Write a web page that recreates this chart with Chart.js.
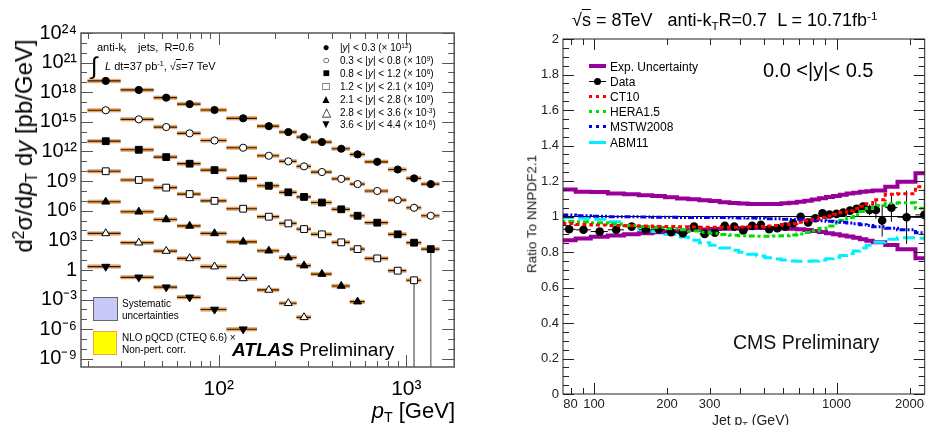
<!DOCTYPE html>
<html>
<head>
<meta charset="utf-8">
<script src="https://cdn.jsdelivr.net/npm/chart.js@4.4.0/dist/chart.umd.min.js"></script>
<style>
  body { margin: 0; background: #fff; width: 926px; height: 425px; overflow: hidden; position: relative;
         font-family: "Liberation Sans", Arial, sans-serif; }
  canvas { position: absolute; top: 0; }
  #atlas { left: 0; }
  #cms { left: 463px; }
  .t { position: absolute; white-space: nowrap; color: #000; line-height: 1; }
  sup { font-size: 65%; vertical-align: 0.5em; line-height: 0; }
  sub { font-size: 65%; vertical-align: -0.3em; line-height: 0; }
  .ov { text-decoration: overline; }
  .lg { position: absolute; left: 318px; font-size: 10px; line-height: 12px; white-space: nowrap; }
  .lg b { display: inline-block; width: 16px; text-align: center; font-weight: normal; font-size: 12px; margin-right: 6px; }
  .rl { position: absolute; left: 589px; font-size: 12px; line-height: 14px; white-space: nowrap; }
  .rl i { display: inline-block; width: 17px; height: 0; vertical-align: middle; margin-right: 4px; position: relative; top: -1px; }
</style>
</head>
<body>
<canvas id="atlas" width="460" height="425"></canvas>
<canvas id="cms" width="466" height="425"></canvas>

<!-- left panel texts -->
<div class="t" style="left:24px;top:146px;font-size:24px;transform:translate(-50%,-50%) rotate(-90deg);">d<sup>2</sup>σ/d<i>p</i><sub>T</sub> d<i>y</i> [pb/GeV]</div>
<div class="t" style="right:471px;top:400px;font-size:22px;"><i>p</i><sub>T</sub> [GeV]</div>
<div class="t" style="left:97px;top:42px;font-size:11px;">anti-k<sub>t</sub>&nbsp;&nbsp;&nbsp; jets,&nbsp; R=0.6</div>
<div class="t" style="left:91px;top:54px;font-size:24px;">∫</div>
<div class="t" style="left:105px;top:61px;font-size:11px;"><i>L</i> dt=37 pb<sup>-1</sup>, √<span class="ov"><i>s</i></span>=7 TeV</div>
<div id="atlasLegend"></div>
<div style="position:absolute;left:93px;top:297px;width:23px;height:22px;background:#c8c8f6;border:1px solid #666;"></div>
<div class="t" style="left:122px;top:298px;font-size:10px;line-height:12px;">Systematic<br>uncertainties</div>
<div style="position:absolute;left:93px;top:331px;width:22px;height:22px;background:#ffff00;border:1.5px solid #f4a340;"></div>
<div class="t" style="left:122px;top:332px;font-size:10px;line-height:12px;">NLO pQCD (CTEQ 6.6) ×<br>Non-pert. corr.</div>
<div class="t" style="left:232px;top:340px;font-size:19px;"><b><i>ATLAS</i></b> Preliminary</div>

<!-- right panel texts -->
<div class="t" style="left:572px;top:11px;font-size:18px;">√<span class="ov">s</span> = 8TeV&nbsp;&nbsp; anti-k<sub>T</sub>R=0.7&nbsp; L = 10.71fb<sup>-1</sup></div>
<div class="t" style="left:532px;top:214px;font-size:13.5px;color:#222;transform:translate(-50%,-50%) rotate(-90deg);">Ratio To NNPDF2.1</div>
<div class="t" style="left:712px;top:413px;font-size:14px;color:#222;">Jet p<sub>T</sub> (GeV)</div>
<div class="t" style="left:763px;top:60px;font-size:20px;">0.0 &lt;|y|&lt; 0.5</div>
<div class="t" style="left:733px;top:333px;font-size:19.5px;color:#111;">CMS Preliminary</div>
<div class="rl" style="top:60px;"><i style="border-top:4px solid #990099;top:-2px;"></i>Exp. Uncertainty</div>
<div class="rl" style="top:75px;"><i style="border-top:1px solid #000;"><span style="position:absolute;left:5px;top:-4.5px;width:7px;height:7px;border-radius:50%;background:#000;"></span></i>Data</div>
<div class="rl" style="top:90px;"><i style="border-top:3px dotted #ff0000;"></i>CT10</div>
<div class="rl" style="top:105px;"><i style="border-top:3px dotted #00dd00;"></i>HERA1.5</div>
<div class="rl" style="top:120px;"><i style="border-top:3px dotted #0000ee;"></i>MSTW2008</div>
<div class="rl" style="top:136px;"><i style="border-top:3px solid #00eeff;"></i>ABM11</div>

<script>
var font = '"Liberation Sans", Arial, sans-serif';

// ---------- ATLAS 7 TeV inclusive jets ----------
var ptEdges = [20, 30, 45, 60, 80, 110, 160, 210, 260, 310, 400, 500, 600, 800, 1000, 1200, 1500];
var ptMid = [25, 37.5, 52.5, 70, 95, 135, 185, 235, 285, 355, 450, 550, 700, 900, 1100, 1350];

var y00_03 = [1.4e19, 1.7e18, 2.8e17, 6.3e16, 1.6e16, 2.3e15, 3.7e14, 9.3e13, 2.9e13, 9.1e12, 1.9e12, 5.1e11, 9.1e10, 1.5e10, 1.9e9, 5.0e8];
var y03_08 = [1.5e16, 1.8e15, 3.0e14, 6.9e13, 1.3e13, 2.4e12, 3.7e11, 1.0e11, 3.1e10, 8.3e9, 1.7e9, 5.0e8, 1.0e8, 1.2e7, 2.0e6, 3.1e5];
var y08_12 = [1.1e13, 1.5e12, 2.7e11, 5.8e10, 1.3e10, 1.9e9, 3.4e8, 7.4e7, 2.5e7, 6.8e6, 1.4e6, 3.1e5, 6.2e4, 4.1e3, 5.8e2, 1.3e2];
var y12_21 = [1.0e10, 1.3e9, 2.2e8, 4.9e7, 1.0e7, 1.6e6, 2.5e5, 5.2e4, 1.4e4, 4.1e3, 6.3e2, 1.3e2, 15, 0.85, 0.091];
var y21_28 = [8.1e6, 7.9e5, 1.3e5, 2.9e4, 5.1e3, 7.2e2, 89, 18, 2.8, 0.39, 0.024, 6.2e-4];
var y28_36 = [5.1e3, 5.8e2, 83, 15, 2.2, 0.14, 9.5e-3, 4.3e-4, 1.6e-5];
var y36_44 = [2.2, 0.18, 0.018, 1.7e-3, 1.0e-4, 1.0e-6];

var rapBins = ['|y| < 0.3', '0.3 < |y| < 0.8', '0.8 < |y| < 1.2', '1.2 < |y| < 2.1', '2.1 < |y| < 2.8', '2.8 < |y| < 3.6', '3.6 < |y| < 4.4'];
var rapScaleExp = ['12', '9', '6', '3', '0', '-3', '-6'];
var rapGlyph = ['●', '○', '■', '□', '▲', '△', '▼'];

// points whose lower error reaches the bottom of the plot
var errSeries = [2, 3];
var errBin = [15, 14];
var errLow = [1e-10, 1e-10];

var atlasXTicks = [100, 1000];
var atlasXLabels = ['10²', '10³'];
var atlasYTicks = [1e-9, 1e-6, 1e-3, 1, 1e3, 1e6, 1e9, 1e12, 1e15, 1e18, 1e21, 1e24];
var atlasYLabels = ['10⁻⁹', '10⁻⁶', '10⁻³', '1', '10³', '10⁶', '10⁹', '10¹²', '10¹⁵', '10¹⁸', '10²¹', '10²⁴'];

// ---------- CMS 8 TeV ratio ----------
var cmsPt = [79, 90.5, 105.5, 123.5, 143, 163.5, 185, 208, 232.5, 258.5, 286, 315, 346, 378.5, 412.5, 449, 487.5, 527.5, 570, 615, 662, 711.5, 763.5, 818, 875.5, 936, 999.5, 1066.5, 1136.5, 1210, 1287.5, 1368.5, 1453.5, 1542.5, 1684, 1945, 2302];
var cmsLo = [74, 84, 97, 114, 133, 153, 174, 196, 220, 245, 272, 300, 330, 362, 395, 430, 468, 507, 548, 592, 638, 686, 737, 790, 846, 905, 967, 1032, 1101, 1172, 1248, 1327, 1410, 1497, 1588, 1784, 2116];
var cmsHi = [84, 97, 114, 133, 153, 174, 196, 220, 245, 272, 300, 330, 362, 395, 430, 468, 507, 548, 592, 638, 686, 737, 790, 846, 905, 967, 1032, 1101, 1172, 1248, 1327, 1410, 1497, 1588, 1784, 2116, 2500];
var cmsRatio = [0.928, 0.925, 0.915, 0.925, 0.943, 0.925, 0.928, 0.912, 0.906, 0.943, 0.902, 0.909, 0.947, 0.943, 0.921, 0.947, 0.953, 0.928, 0.934, 0.943, 0.962, 0.999, 0.966, 0.990, 1.018, 1.011, 1.015, 1.022, 1.033, 1.043, 1.056, 1.037, 1.037, 0.977, 1.050, 0.996, 1.009];
var cmsErr = [0.004, 0.004, 0.004, 0.004, 0.004, 0.004, 0.004, 0.004, 0.004, 0.004, 0.004, 0.004, 0.004, 0.004, 0.004, 0.004, 0.004, 0.004, 0.004, 0.004, 0.005, 0.005, 0.005, 0.006, 0.007, 0.008, 0.010, 0.012, 0.015, 0.018, 0.022, 0.030, 0.050, 0.090, 0.080, 0.150, 0.150];

var histEdges = [74, 84, 97, 114, 133, 153, 174, 196, 220, 245, 272, 300, 330, 362, 395, 430, 468, 507, 548, 592, 638, 686, 737, 790, 846, 905, 967, 1032, 1101, 1172, 1248, 1327, 1410, 1588, 1784, 2116, 2500];
var uncUp = [1.152, 1.140, 1.138, 1.130, 1.125, 1.120, 1.115, 1.108, 1.102, 1.097, 1.092, 1.087, 1.080, 1.076, 1.073, 1.071, 1.070, 1.070, 1.071, 1.074, 1.078, 1.083, 1.089, 1.096, 1.103, 1.110, 1.116, 1.122, 1.129, 1.134, 1.139, 1.142, 1.146, 1.168, 1.196, 1.244];
var uncDown = [0.866, 0.876, 0.886, 0.893, 0.900, 0.906, 0.911, 0.916, 0.920, 0.924, 0.927, 0.929, 0.931, 0.933, 0.934, 0.935, 0.935, 0.935, 0.934, 0.933, 0.931, 0.928, 0.924, 0.919, 0.912, 0.906, 0.900, 0.893, 0.887, 0.880, 0.872, 0.864, 0.855, 0.840, 0.815, 0.765];
var ct10 = [0.960, 0.955, 0.952, 0.950, 0.948, 0.946, 0.944, 0.943, 0.942, 0.941, 0.940, 0.940, 0.940, 0.940, 0.941, 0.942, 0.944, 0.947, 0.950, 0.955, 0.961, 0.968, 0.976, 0.985, 0.994, 1.003, 1.012, 1.022, 1.033, 1.045, 1.058, 1.072, 1.095, 1.125, 1.128, 1.168];
var hera15 = [0.972, 0.970, 0.965, 0.958, 0.950, 0.944, 0.938, 0.932, 0.925, 0.918, 0.911, 0.905, 0.899, 0.895, 0.892, 0.890, 0.889, 0.889, 0.890, 0.892, 0.896, 0.902, 0.910, 0.920, 0.933, 0.947, 0.962, 0.978, 0.994, 1.010, 1.028, 1.045, 1.062, 1.075, 1.078, 1.047];
var mstw2008 = [1.008, 1.004, 1.001, 0.999, 0.998, 0.997, 0.996, 0.996, 0.995, 0.995, 0.995, 0.994, 0.994, 0.993, 0.992, 0.991, 0.990, 0.988, 0.987, 0.985, 0.983, 0.981, 0.980, 0.978, 0.976, 0.973, 0.970, 0.967, 0.963, 0.959, 0.954, 0.949, 0.942, 0.934, 0.925, 0.908];
var abm11 = [0.995, 0.990, 0.984, 0.970, 0.950, 0.930, 0.915, 0.900, 0.885, 0.866, 0.852, 0.838, 0.822, 0.810, 0.798, 0.787, 0.777, 0.768, 0.761, 0.755, 0.750, 0.748, 0.748, 0.750, 0.755, 0.762, 0.770, 0.780, 0.792, 0.806, 0.822, 0.838, 0.855, 0.872, 0.880, 0.878];

var cmsXTicks = [80, 100, 200, 300, 1000, 2000];
var cmsXLabels = ['80', '100', '200', '300', '1000', '2000'];
var cmsYTicks = [0, 0.2, 0.4, 0.6, 0.8, 1, 1.2, 1.4, 1.6, 1.8, 2];
var cmsYLabels = ['0', '0.2', '0.4', '0.6', '0.8', '1', '1.2', '1.4', '1.6', '1.8', '2'];

// ROOT style frame with inward ticks on all sides
var rootFrame = {
  id: 'rootFrame',
  afterDatasetsDraw: function (chart, args, o) {
    var a = chart.chartArea, ctx = chart.ctx, xs = chart.scales.x, ys = chart.scales.y;
    ctx.save();
    ctx.strokeStyle = o.color;
    ctx.lineWidth = 1;
    ctx.beginPath();
    function tx(v, len) {
      var p = Math.round(xs.getPixelForValue(v)) + 0.5;
      ctx.moveTo(p, a.bottom); ctx.lineTo(p, a.bottom - len);
      ctx.moveTo(p, a.top); ctx.lineTo(p, a.top + len);
    }
    function ty(v, len) {
      var p = Math.round(ys.getPixelForValue(v)) + 0.5;
      ctx.moveTo(a.left, p); ctx.lineTo(a.left + len, p);
      ctx.moveTo(a.right, p); ctx.lineTo(a.right - len, p);
    }
    o.xMajor.forEach(function (v) { tx(v, o.major); });
    o.xMinor.forEach(function (v) { tx(v, o.minor); });
    o.yMajor.forEach(function (v) { ty(v, o.major); });
    o.yMinor.forEach(function (v) { ty(v, o.minor); });
    ctx.stroke();
    ctx.lineWidth = o.frame;
    ctx.strokeRect(a.left, a.top, a.right - a.left, a.bottom - a.top);
    ctx.restore();
  }
};

// ---------- left chart ----------
var atlasSeries = [y00_03, y03_08, y08_12, y12_21, y21_28, y28_36, y36_44];
var markStyle = ['circle', 'circle', 'rect', 'rect', 'triangle', 'triangle', 'triangle'];
var markOpen = [false, true, false, true, false, true, false];
var markRot = [0, 0, 0, 0, 0, 0, 180];
var markSize = [3.6, 3.6, 4.8, 4.8, 4.6, 4.6, 4.6];

function segs(vals) {
  var d = [];
  vals.forEach(function (v, i) {
    d.push({ x: ptEdges[i], y: v }, { x: ptEdges[i + 1], y: v }, { x: ptEdges[i + 1], y: null });
  });
  return d;
}
function lineSet(data, color, width) {
  return { data: data, borderColor: color, borderWidth: width, pointRadius: 0, pointHitRadius: 0, fill: false, tension: 0, showLine: true };
}

// listed bottom layer first; Chart.js paints the first dataset last, so reverse at the end
var atlasSets = [];
atlasSeries.forEach(function (vals) { atlasSets.push(lineSet(segs(vals), '#c8c8f6', 4.5)); });
atlasSeries.forEach(function (vals) { atlasSets.push(lineSet(segs(vals), '#f4a340', 3.5)); });
atlasSeries.forEach(function (vals) { atlasSets.push(lineSet(segs(vals), '#2a1a08', 1.2)); });
errSeries.forEach(function (s, k) {
  var b = errBin[k];
  atlasSets.push(lineSet([{ x: ptMid[b], y: atlasSeries[s][b] }, { x: ptMid[b], y: errLow[k] }], '#888', 1));
});
atlasSeries.forEach(function (vals, s) {
  atlasSets.push({
    data: vals.map(function (v, i) { return { x: ptMid[i], y: v }; }),
    showLine: false,
    pointStyle: markStyle[s],
    pointRotation: markRot[s],
    pointRadius: markSize[s],
    pointBackgroundColor: markOpen[s] ? '#fff' : '#000',
    pointBorderColor: '#000',
    pointBorderWidth: 1
  });
});
atlasSets.reverse();

var atlasMinorX = [20, 30, 40, 50, 60, 70, 80, 90, 200, 300, 400, 500, 600, 700, 800, 900];
var atlasMinorY = [];
for (var e = -9; e <= 24; e++) { if (e % 3 !== 0) atlasMinorY.push(Math.pow(10, e)); }

new Chart(document.getElementById('atlas'), {
  type: 'line',
  data: { datasets: atlasSets },
  plugins: [rootFrame],
  options: {
    responsive: false, animation: false, devicePixelRatio: 1,
    layout: { padding: { top: 33, right: 5, left: 0, bottom: 0 } },
    plugins: {
      legend: { display: false }, tooltip: { enabled: false },
      rootFrame: { color: '#555', frame: 1.5, major: 12, minor: 6, xMajor: atlasXTicks, xMinor: atlasMinorX, yMajor: atlasYTicks, yMinor: atlasMinorY }
    },
    scales: {
      x: {
        type: 'logarithmic', min: 18.45, max: 1800,
        afterBuildTicks: function (s) { s.ticks = atlasXTicks.map(function (v) { return { value: v }; }); },
        afterFit: function (s) { s.height = 58; },
        grid: { display: false, drawTicks: false }, border: { display: false },
        ticks: { autoSkip: false, maxRotation: 0, padding: 10, color: '#000', font: { family: font, size: 21 },
                 callback: function (v, i) { return atlasXLabels[i]; } }
      },
      y: {
        type: 'logarithmic', min: 1.5e-10, max: 1e24,
        afterBuildTicks: function (s) { s.ticks = atlasYTicks.map(function (v) { return { value: v }; }); },
        afterFit: function (s) { s.width = 81; },
        grid: { display: false, drawTicks: false }, border: { display: false },
        ticks: { autoSkip: false, padding: 4, color: '#000', font: { family: font, size: 20 },
                 callback: function (v, i) { return atlasYLabels[i]; } }
      }
    }
  }
});

// left legend
var lgHtml = '';
rapBins.forEach(function (lab, i) {
  var txt = lab.replace(/y/g, '<i>y</i>') + ' (× 10<sup>' + rapScaleExp[i] + '</sup>)';
  lgHtml += '<div class="lg" style="top:' + (41 + i * 12.9) + 'px"><b>' + rapGlyph[i] + '</b>' + txt + '</div>';
});
document.getElementById('atlasLegend').innerHTML = lgHtml;

// ---------- right chart ----------
function hist(vals) {
  var d = vals.map(function (v, i) { return { x: histEdges[i], y: v }; });
  d.push({ x: histEdges[vals.length], y: vals[vals.length - 1] });
  return d;
}
function histSet(vals, color, width, dash) {
  return { data: hist(vals), borderColor: color, borderWidth: width, borderDash: dash, stepped: true,
           pointRadius: 0, pointHitRadius: 0, fill: false, showLine: true };
}
var ebars = [];
cmsPt.forEach(function (x, i) {
  ebars.push({ x: x, y: cmsRatio[i] - cmsErr[i] }, { x: x, y: cmsRatio[i] + cmsErr[i] }, { x: x, y: null });
  ebars.push({ x: cmsLo[i], y: cmsRatio[i] }, { x: cmsHi[i], y: cmsRatio[i] }, { x: cmsHi[i], y: null });
});

var cmsSets = [
  histSet(uncUp, '#990099', 4, []),
  histSet(uncDown, '#990099', 4, []),
  histSet(abm11, '#00eeff', 3, [12, 5]),
  lineSet([{ x: histEdges[0], y: 1 }, { x: histEdges[histEdges.length - 1], y: 1 }], '#000', 1),
  lineSet(ebars, '#000', 1),
  { data: cmsPt.map(function (x, i) { return { x: x, y: cmsRatio[i] }; }), showLine: false,
    pointStyle: 'circle', pointRadius: 4.3, pointBackgroundColor: '#000', pointBorderColor: '#000', pointBorderWidth: 0 },
  histSet(hera15, '#00dd00', 3, [3, 3, 6, 3]),
  histSet(mstw2008, '#0000ee', 3, [6, 2, 2, 2, 2, 2]),
  histSet(ct10, '#ff0000', 3, [4, 3])
];
cmsSets.reverse();

var cmsMinorX = [80, 90, 200, 300, 400, 500, 600, 700, 800, 900, 2000];
var cmsMinorY = [];
for (var k = 1; k < 40; k++) { if (k % 4 !== 0) cmsMinorY.push(k * 0.05); }

new Chart(document.getElementById('cms'), {
  type: 'line',
  data: { datasets: cmsSets },
  plugins: [rootFrame],
  options: {
    responsive: false, animation: false, devicePixelRatio: 1,
    layout: { padding: { top: 39, right: 2, left: 0, bottom: 0 } },
    plugins: {
      legend: { display: false }, tooltip: { enabled: false },
      rootFrame: { color: '#222', frame: 1, major: 11, minor: 6, xMajor: [100, 1000], xMinor: cmsMinorX, yMajor: cmsYTicks, yMinor: cmsMinorY }
    },
    scales: {
      x: {
        type: 'logarithmic', min: 74.5, max: 2310,
        afterBuildTicks: function (s) { s.ticks = cmsXTicks.map(function (v) { return { value: v }; }); },
        afterFit: function (s) { s.height = 31; },
        grid: { display: false, drawTicks: false }, border: { display: false },
        ticks: { autoSkip: false, maxRotation: 0, padding: 3, color: '#222', font: { family: font, size: 13 },
                 callback: function (v, i) { return cmsXLabels[i]; } }
      },
      y: {
        type: 'linear', min: 0, max: 2,
        afterBuildTicks: function (s) { s.ticks = cmsYTicks.map(function (v) { return { value: v }; }); },
        afterFit: function (s) { s.width = 100; },
        grid: { display: false, drawTicks: false }, border: { display: false },
        ticks: { autoSkip: false, padding: 4, color: '#222', font: { family: font, size: 13 },
                 callback: function (v, i) { return cmsYLabels[i]; } }
      }
    }
  }
});
</script>
</body>
</html>
